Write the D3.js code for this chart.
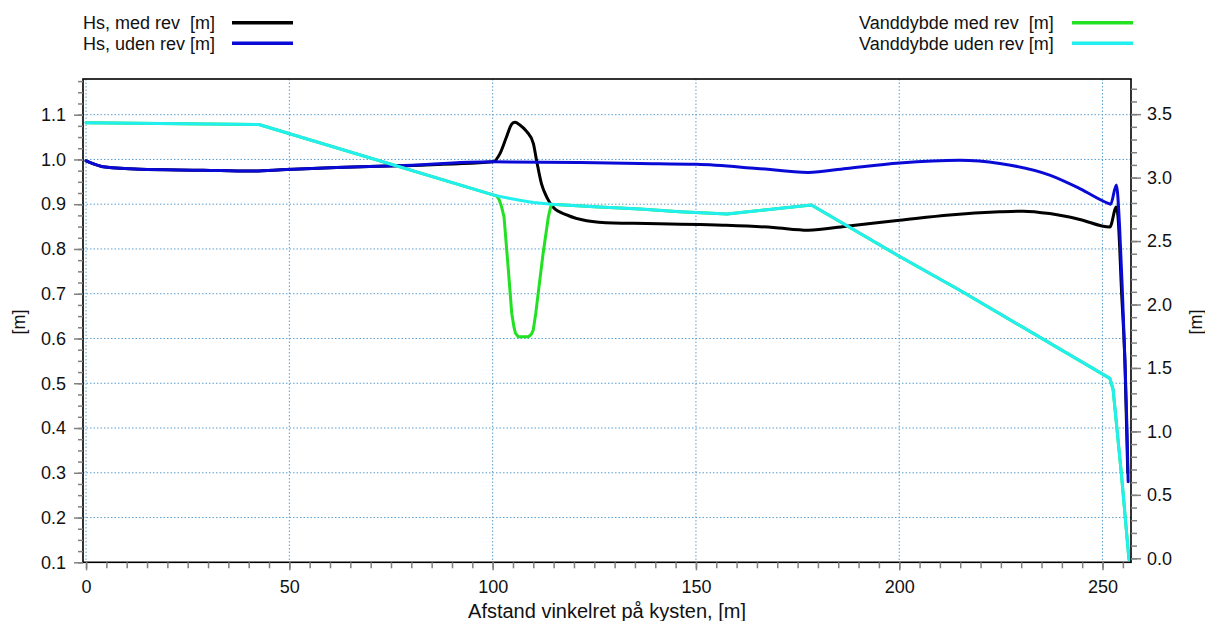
<!DOCTYPE html>
<html>
<head>
<meta charset="utf-8">
<script src="https://cdn.jsdelivr.net/npm/d3@7"></script>
<style>
  html, body { margin: 0; padding: 0; background: #fff; }
  svg { display: block; font-family: "Liberation Sans", Arial, sans-serif; }
  text { white-space: pre; }
</style>
</head>
<body>
<svg id="chart" width="1205" height="621"></svg>
<script>
// ---------- data ----------
const hsMedX = [0, 4.7, 13.3, 28.8, 40.3, 49.3, 61.6, 76.4, 100.1, 101.8, 103.4, 104.7, 105.5, 106.7, 108.4, 110, 110.8, 112, 113.3, 114.9, 118.2, 123.1, 129.7, 137.9, 156.7, 169, 177.6, 187, 200.1, 212.4, 224.7, 230.5, 237, 244.4, 251.8, 253.4, 253.8, 254.7, 255.5, 256.2];
const hsMedY = [0.997, 0.983, 0.978, 0.976, 0.974, 0.9776, 0.982, 0.9857, 0.9946, 1.013, 1.05, 1.079, 1.083, 1.077, 1.062, 1.036, 0.998, 0.946, 0.916, 0.893, 0.876, 0.863, 0.858, 0.857, 0.853, 0.848, 0.842, 0.851, 0.864, 0.876, 0.883, 0.8845, 0.879, 0.866, 0.849, 0.894, 0.872, 0.70, 0.55, 0.30];

const hsUdenX = [0, 4.7, 13.3, 28.8, 40.3, 49.3, 61.6, 76.4, 100.1, 121.5, 136.2, 150.2, 165, 177.6, 187, 200.1, 214.9, 224.7, 237, 244.4, 251.4, 252, 253.4, 254.2, 254.9, 255.5, 256, 256.3];
const hsUdenY = [0.997, 0.983, 0.978, 0.976, 0.974, 0.9776, 0.982, 0.9857, 0.9946, 0.993, 0.991, 0.989, 0.980, 0.971, 0.980, 0.992, 0.998, 0.991, 0.965, 0.935, 0.902, 0.900, 0.943, 0.849, 0.70, 0.552, 0.403, 0.28];

const depthMedX = [0, 42.5, 100.5, 101, 101.6, 102.2, 102.8, 103.8, 104.7, 105.2, 105.6, 106.3, 108.8, 109.5, 110, 110.6, 111.2, 112.4, 113.7, 114.2, 114.5, 125, 136.2, 146, 157.7, 178.4, 200, 215, 251.8, 252.6, 254.7, 256.5];
const depthMedY = [3.433, 3.418, 2.86, 2.855, 2.825, 2.77, 2.69, 2.298, 1.93, 1.83, 1.775, 1.746, 1.746, 1.765, 1.80, 1.93, 2.088, 2.40, 2.69, 2.76, 2.79, 2.77, 2.753, 2.731, 2.713, 2.784, 2.38, 2.11, 1.418, 1.33, 0.643, -0.01];

const depthUdenX = [0, 42.5, 100.5, 104, 107, 110, 114.5, 125, 136.2, 146, 157.7, 178.4, 200, 215, 251.8, 252.6, 254.7, 256.5];
const depthUdenY = [3.433, 3.418, 2.86, 2.838, 2.82, 2.803, 2.79, 2.77, 2.753, 2.731, 2.713, 2.784, 2.38, 2.11, 1.418, 1.33, 0.643, -0.01];

const xTicks = [0, 50, 100, 150, 200, 250];
const leftTicks = [0.1, 0.2, 0.3, 0.4, 0.5, 0.6, 0.7, 0.8, 0.9, 1.0, 1.1];
const rightTicks = [0.0, 0.5, 1.0, 1.5, 2.0, 2.5, 3.0, 3.5];

const seriesNames = ["Hs, med rev  [m]", "Hs, uden rev [m]", "Vanddybde med rev  [m]", "Vanddybde uden rev [m]"];
const seriesColors = ["#000000", "#0a0ad6", "#22e022", "#22f0f0"];
const xTitle = "Afstand vinkelret på kysten, [m]";
const yTitle = "[m]";

// ---------- layout ----------
const L = 83, R = 1131, T = 79, B = 562.3;
const svg = d3.select("#chart");

const x = d3.scaleLinear().domain([-0.75, 257]).range([L, R]);
const yL = d3.scaleLinear().domain([0.1, 1.1797]).range([B, T]);
const yR = d3.scaleLinear().domain([-0.0315, 3.777]).range([B, T]);

// grid
const grid = svg.append("g").attr("stroke", "#5a9fd0").attr("stroke-width", 1).attr("stroke-dasharray", "1.5,2");
grid.selectAll("line.h").data(leftTicks.slice(1)).join("line")
  .attr("x1", L).attr("x2", R).attr("y1", d => yL(d)).attr("y2", d => yL(d));
grid.selectAll("line.v").data(xTicks).join("line")
  .attr("y1", T).attr("y2", B).attr("x1", d => x(d)).attr("x2", d => x(d));

// lines
const defs = svg.append("defs");
defs.append("clipPath").attr("id", "clip").append("rect")
  .attr("x", L).attr("y", T).attr("width", R - L).attr("height", B - T + 2);
const plot = svg.append("g").attr("clip-path", "url(#clip)");

function drawLine(xs, ys, yScale, color, curve) {
  const pts = xs.map((v, i) => [v, ys[i]]);
  const gen = d3.line().x(d => x(d[0])).y(d => yScale(d[1])).curve(curve);
  plot.append("path").attr("d", gen(pts)).attr("fill", "none")
    .attr("stroke", color).attr("stroke-width", 3).attr("stroke-linejoin", "round").attr("stroke-linecap", "round");
}
drawLine(hsMedX, hsMedY, yL, seriesColors[0], d3.curveMonotoneX);
drawLine(hsUdenX, hsUdenY, yL, seriesColors[1], d3.curveMonotoneX);
drawLine(depthMedX, depthMedY, yR, seriesColors[2], d3.curveLinear);
drawLine(depthUdenX, depthUdenY, yR, seriesColors[3], d3.curveLinear);

// frame
svg.append("rect").attr("x", L).attr("y", T).attr("width", R - L).attr("height", B - T)
  .attr("fill", "none").attr("stroke", "#000").attr("stroke-width", 1.6);

// axes
const tickColor = "#808080";
function styleAxis(g, fs) {
  g.select(".domain").remove();
  g.selectAll(".tick line").attr("stroke", tickColor).attr("stroke-width", 1.5);
  g.selectAll(".tick text").attr("fill", "#111").attr("font-size", fs)
    .attr("font-family", "Liberation Sans, Arial, sans-serif");
}
// x minor
const xMinor = d3.range(0, 256, 5);
svg.append("g").attr("transform", `translate(0,${B})`)
  .call(d3.axisBottom(x).tickValues(xMinor).tickSize(6).tickFormat(""))
  .call(g => styleAxis(g, 18));
svg.append("g").attr("transform", `translate(0,${B})`)
  .call(d3.axisBottom(x).tickValues(xTicks).tickSize(8).tickPadding(10).tickFormat(d3.format("d")))
  .call(g => styleAxis(g, 18));

// left minor
const leftMinor = d3.range(0, 44).map(i => 0.1 + i * 0.025).filter(v => v <= 1.18);
svg.append("g").attr("transform", `translate(${L},0)`)
  .call(d3.axisLeft(yL).tickValues(leftMinor).tickSize(5).tickFormat(""))
  .call(g => styleAxis(g, 18));
svg.append("g").attr("transform", `translate(${L},0)`)
  .call(d3.axisLeft(yL).tickValues(leftTicks).tickSize(9).tickPadding(8).tickFormat(d3.format(".1f")))
  .call(g => styleAxis(g, 18));

// right
const rightMinor = d3.range(0, 38).map(i => i * 0.1);
svg.append("g").attr("transform", `translate(${R},0)`)
  .call(d3.axisRight(yR).tickValues(rightMinor).tickSize(6).tickFormat(""))
  .call(g => styleAxis(g, 18));
svg.append("g").attr("transform", `translate(${R},0)`)
  .call(d3.axisRight(yR).tickValues(rightTicks).tickSize(10).tickPadding(6).tickFormat(d3.format(".1f")))
  .call(g => styleAxis(g, 18));

// titles
svg.append("text").attr("x", (L + R) / 2).attr("y", 618).attr("text-anchor", "middle")
  .attr("font-size", 20).attr("fill", "#111").text(xTitle);
svg.append("text").attr("transform", "translate(25,322) rotate(-90)").attr("text-anchor", "middle")
  .attr("font-size", 18).attr("fill", "#111").text(yTitle);
svg.append("text").attr("transform", "translate(1202,322) rotate(-90)").attr("text-anchor", "middle")
  .attr("font-size", 18).attr("fill", "#111").text(yTitle);

// legend
const legendPos = [
  { tx: 83, lx1: 232, lx2: 293, y: 22.7 },
  { tx: 83, lx1: 232, lx2: 293, y: 43.3 },
  { tx: 859, lx1: 1072, lx2: 1133, y: 22.7 },
  { tx: 859, lx1: 1072, lx2: 1133, y: 43.3 }
];
const leg = svg.append("g");
seriesNames.forEach((name, i) => {
  const p = legendPos[i];
  leg.append("text").attr("x", p.tx).attr("y", p.y + 6.5).attr("font-size", 18).attr("fill", "#111").text(name);
  leg.append("line").attr("x1", p.lx1).attr("x2", p.lx2).attr("y1", p.y).attr("y2", p.y)
    .attr("stroke", seriesColors[i]).attr("stroke-width", 3.5);
});
</script>
</body>
</html>
